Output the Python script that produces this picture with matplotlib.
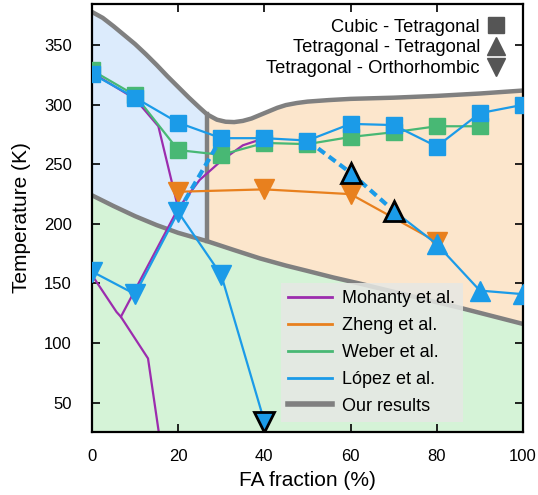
import numpy as np
import matplotlib
matplotlib.use("Agg")
import matplotlib.pyplot as plt
from matplotlib.lines import Line2D

plt.rcParams['font.family'] = ['Liberation Sans', 'DejaVu Sans']

# "Our results" phase boundaries
upper_x = [0, 2.5, 5, 7.5, 10, 12.5, 15, 17.5, 20, 22.5, 25, 26.7, 29, 31, 33, 35, 37, 39,
           41, 43, 45, 47.5, 50, 55, 60, 70, 80, 90, 100]
upper_T = [378, 373, 366, 358.5, 351, 342.5, 333.5, 324, 315, 306, 297.5, 292, 287.5, 285.8,
           285.5, 286.5, 288.5, 291.5, 294.5, 297.5, 299.8, 301.5, 302.7, 304, 305, 306,
           307.5, 309.5, 312]
lower_x = [0, 5, 10, 15, 20, 26.7, 33, 39, 45, 50, 56, 62, 70, 78, 86, 93, 100]
lower_T = [224, 215, 206.5, 199, 192.5, 185.5, 178, 171, 165, 160.5, 155, 150, 143, 136,
           129, 122.5, 116]
split_x = 26.7

# Mohanty et al. (lines only)
moh_a_x = [0, 10, 15.4, 20, 25, 30, 35, 40]
moh_a_T = [327, 305, 282, 213, 237, 253, 266, 272]
moh_b_x = [20, 6.7, 13, 15.5]
moh_b_T = [213, 122, 87, 25]
moh_c_x = [0, 5.7, 6.7]
moh_c_T = [157, 126, 122]

# Zheng et al. (tetragonal - orthorhombic)
zheng_x = [20, 40, 60, 80]
zheng_T = [227, 229, 225, 185]

# Weber et al. (cubic - tetragonal)
weber_x = [0, 10, 20, 30, 40, 50, 60, 70, 80, 90]
weber_T = [329, 308, 262, 258, 268, 267, 273, 277, 282, 282]

# López et al.
lopez_sq_x = [0, 10, 20, 30, 40, 50, 60, 70, 80, 90, 100]
lopez_sq_T = [326, 306, 285, 272, 272, 270, 284, 283, 265, 293, 300]
lopez_up_x = [70, 80, 90, 100]
lopez_up_T = [211, 183, 144, 141]
lopez_up_dash_x = [50, 60, 70]
lopez_up_dash_T = [270, 243, 211]
lopez_dn_x = [0, 10, 20, 30, 40]
lopez_dn_T = [160, 141, 210, 157, 34]
lopez_dn_dash_x = [20, 30]
lopez_dn_dash_T = [210, 272]
# highlighted points (black edge)
hi_up_x = [60, 70]
hi_up_T = [243, 211]
hi_dn_x = [40]
hi_dn_T = [34]

purple = "#9c2cae"
orange = "#e8801e"
green = "#48b874"
blue = "#1b9be8"
gray = "#808080"

fig = plt.figure(figsize=(5.38, 4.95), dpi=100)
ax = fig.add_axes([0.171, 0.1267, 0.801, 0.866])

ux = np.array(upper_x); uT = np.array(upper_T)
lx = np.array(lower_x); lT = np.array(lower_T)

# region fills
ax.fill_between(lx, 0, lT, color="#d5f3d7", lw=0, zorder=0)
ax.fill_between(ux[ux <= split_x], uT[ux <= split_x],
                np.interp(ux[ux <= split_x], lx, lT), color="#dcebfc", lw=0, zorder=0)
ax.fill_between(lx[lx <= split_x], np.interp(lx[lx <= split_x], ux, uT),
                lT[lx <= split_x], color="#dcebfc", lw=0, zorder=0)
ax.fill_between(ux[ux >= split_x], uT[ux >= split_x],
                np.interp(ux[ux >= split_x], lx, lT), color="#fce6cc", lw=0, zorder=0)
ax.fill_between(lx[lx >= split_x], np.interp(lx[lx >= split_x], ux, uT),
                lT[lx >= split_x], color="#fce6cc", lw=0, zorder=0)

# our boundaries
ax.plot(ux, uT, color=gray, lw=3.2, zorder=1)
ax.plot(lx, lT, color=gray, lw=3.2, zorder=1)
ax.plot([split_x, split_x], [np.interp(split_x, ux, uT), np.interp(split_x, lx, lT)],
        color=gray, lw=3.2, zorder=1)

# Mohanty
ax.plot(moh_a_x, moh_a_T, color=purple, lw=1.6, zorder=2)
ax.plot(moh_b_x, moh_b_T, color=purple, lw=1.6, zorder=2)
ax.plot(moh_c_x, moh_c_T, color=purple, lw=1.6, zorder=2)

# Weber
ax.plot(weber_x, weber_T, color=green, lw=1.6, marker="s", ms=11, mec=green, zorder=3)

# Zheng
ax.plot(zheng_x, zheng_T, color=orange, lw=1.6, marker="v", ms=15, mec=orange, zorder=3)

# López
ax.plot(lopez_sq_x, lopez_sq_T, color=blue, lw=1.6, marker="s", ms=11, mec=blue, zorder=4)
ax.plot(lopez_up_dash_x, lopez_up_dash_T, color=blue, lw=3, dashes=(2, 1.2), zorder=4)
ax.plot(lopez_dn_dash_x, lopez_dn_dash_T, color=blue, lw=3, dashes=(2, 1.2), zorder=4)
ax.plot(lopez_up_x, lopez_up_T, color=blue, lw=1.6, marker="^", ms=15, mec=blue, zorder=4)
ax.plot(lopez_dn_x, lopez_dn_T, color=blue, lw=1.6, marker="v", ms=15, mec=blue, zorder=4)
ax.plot(hi_up_x, hi_up_T, ls="none", marker="^", ms=15, mfc=blue, mec="black", mew=2, zorder=5)
ax.plot(hi_dn_x, hi_dn_T, ls="none", marker="v", ms=15, mfc=blue, mec="black", mew=2, zorder=5)

ax.set_xlim(0, 100)
ax.set_ylim(25, 385)
ax.set_xticks([0, 20, 40, 60, 80, 100])
ax.set_yticks([50, 100, 150, 200, 250, 300, 350])
ax.tick_params(direction="in", top=True, right=True, length=6, width=1.2, labelsize=12)
ax.tick_params(axis="x", pad=12)
ax.tick_params(axis="y", pad=14.5)
for s in ax.spines.values():
    s.set_linewidth(1.6)
ax.set_xlabel("FA fraction (%)", fontsize=15, labelpad=5)
ax.set_ylabel("Temperature (K)", fontsize=15, labelpad=9)

# legend for transition types
mk = "#555555"
type_handles = [
    Line2D([], [], ls="none", marker="s", ms=12, color=mk),
    Line2D([], [], ls="none", marker="^", ms=12.5, color=mk),
    Line2D([], [], ls="none", marker="v", ms=12.5, color=mk),
]
type_labels = ["Cubic - Tetragonal", "Tetragonal - Tetragonal", "Tetragonal - Orthorhombic"]
leg1 = ax.legend(type_handles, type_labels, loc="upper right", bbox_to_anchor=(0.981, 0.982),
                 markerfirst=False, frameon=False, fontsize=13.2, handletextpad=0.3,
                 labelspacing=0.2, borderaxespad=0, handlelength=1.2)
ax.add_artist(leg1)

# legend for sources
src_handles = [
    Line2D([], [], color=purple, lw=2),
    Line2D([], [], color=orange, lw=2),
    Line2D([], [], color=green, lw=2),
    Line2D([], [], color=blue, lw=2),
    Line2D([], [], color=gray, lw=4),
]
src_labels = ["Mohanty et al.", "Zheng et al.", "Weber et al.", "López et al.", "Our results"]
leg2 = ax.legend(src_handles, src_labels, loc="lower right", bbox_to_anchor=(0.86, 0.024),
                 borderaxespad=0, fontsize=13, fancybox=False, framealpha=0.85,
                 facecolor="#e6e8e4", edgecolor="none", handlelength=2.4,
                 handletextpad=0.6, labelspacing=0.55)
leg2.set_zorder(6)

fig.savefig("out.png", dpi=100)
